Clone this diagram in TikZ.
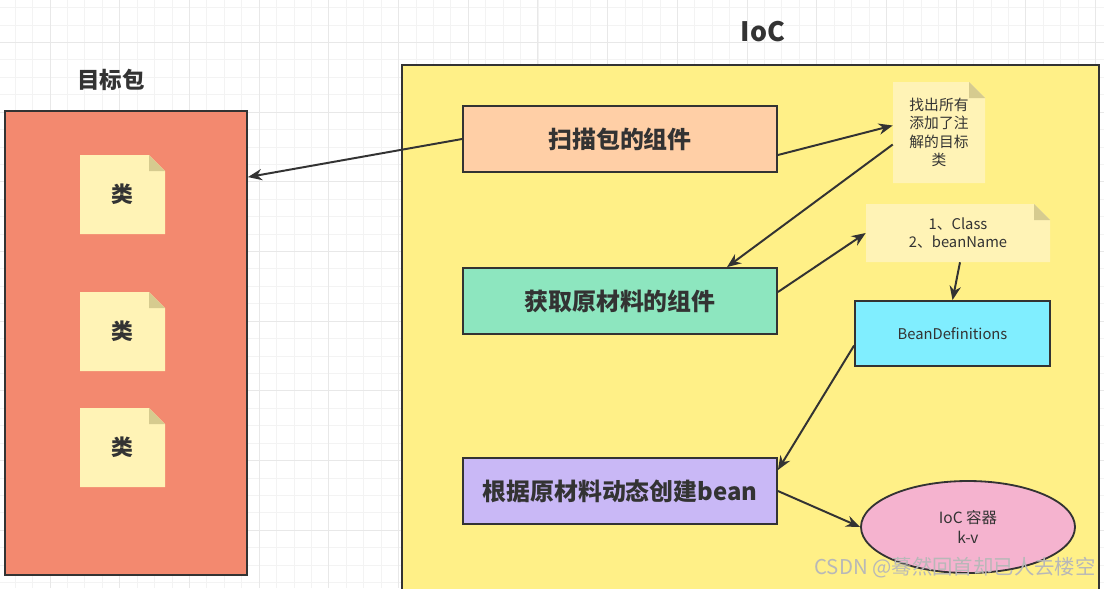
\documentclass[tikz,border=0pt]{standalone}
\usepackage{fontspec}
\setmainfont{Noto Sans CJK SC}
\usetikzlibrary{arrows.meta,shapes.geometric}

\definecolor{inkgray}{HTML}{333333}
\definecolor{gridminor}{HTML}{F3F3F3}
\definecolor{gridmajor}{HTML}{E8E8E8}
\definecolor{pkgred}{HTML}{F3896F}
\definecolor{iocyellow}{HTML}{FFF087}
\definecolor{scanpeach}{HTML}{FFCFA6}
\definecolor{fetchmint}{HTML}{8DE6BF}
\definecolor{createlilac}{HTML}{C9B8F6}
\definecolor{defcyan}{HTML}{80EEFF}
\definecolor{kvpink}{HTML}{F5B3CF}
\definecolor{paper}{HTML}{FFF3B6}
\definecolor{paperfold}{HTML}{D6CB8F}

\def\pxl{0.025cm}

\begin{document}
\begin{tikzpicture}[x=\pxl, y=-\pxl,
    every node/.style={text=inkgray},
    box/.style={draw=inkgray, line width=1.3pt, rectangle,
      minimum width=314*\pxl, minimum height=66*\pxl,
      font=\fontsize{17}{20}\bfseries},
    title/.style={font=\fontsize{16}{19}\bfseries},
    note/.style={rectangle, inner sep=0pt, align=center,
      font=\fontsize{10.5}{13}\selectfont,
      path picture={
        \fill[paper] (path picture bounding box.south west)
          -- (path picture bounding box.north west)
          -- ([xshift=-16*\pxl]path picture bounding box.north east)
          -- ([yshift=-16*\pxl]path picture bounding box.north east)
          -- (path picture bounding box.south east) -- cycle;
        \fill[paperfold] ([xshift=-16*\pxl]path picture bounding box.north east)
          -- ([xshift=-16*\pxl,yshift=-16*\pxl]path picture bounding box.north east)
          -- ([yshift=-16*\pxl]path picture bounding box.north east) -- cycle;
      }},
    arr/.style={draw=inkgray, line width=1.4pt, -{Stealth[length=10pt,width=8pt]}}]

  \clip (0,0) rectangle (1104,588);
  \fill[white] (0,0) rectangle (1104,588);

  % background grid
  \foreach \i in {0,...,64}
    \draw[gridminor, line width=0.5pt] (-2.3+17.425*\i,0) -- (-2.3+17.425*\i,588);
  \foreach \i in {0,...,34}
    \draw[gridminor, line width=0.5pt] (0,7.45+17.425*\i) -- (1104,7.45+17.425*\i);
  \foreach \i in {0,...,15}
    \draw[gridmajor, line width=0.6pt] (50+69.7*\i,0) -- (50+69.7*\i,588);
  \foreach \i in {0,...,8}
    \draw[gridmajor, line width=0.6pt] (0,42.3+69.7*\i) -- (1104,42.3+69.7*\i);

  % target package
  \node[title] (pkgtitle) at (111,80) {目标包};
  \node[draw=inkgray, line width=1.3pt, fill=pkgred, minimum width=242*\pxl,
    minimum height=464*\pxl] (pkg) at (126,343) {};
  \node[note, minimum width=85*\pxl, minimum height=79*\pxl,
    font=\fontsize{15.5}{18}\bfseries] (cls1) at (122.5,194.5) {类};
  \node[note, minimum width=85*\pxl, minimum height=79*\pxl,
    font=\fontsize{15.5}{18}\bfseries] (cls2) at (122.5,331.5) {类};
  \node[note, minimum width=85*\pxl, minimum height=79*\pxl,
    font=\fontsize{15.5}{18}\bfseries] (cls3) at (122.5,447.5) {类};

  % IoC container
  \node[title, font=\fontsize{19}{22}\bfseries] (ioctitle) at (763,32) {IoC};
  \node[draw=inkgray, line width=1.3pt, fill=iocyellow, minimum width=697*\pxl,
    minimum height=560*\pxl] (ioc) at (750.5,345) {};

  \node[box, fill=scanpeach] (scan) at (620,139) {扫描包的组件};
  \node[box, fill=fetchmint] (fetch) at (620,301) {获取原材料的组件};
  \node[box, fill=createlilac] (create) at (620,491) {根据原材料动态创建bean};

  \node[note, minimum width=92*\pxl, minimum height=101*\pxl] (found) at (939,132.5)
    {找出所有\\添加了注\\解的目标\\类};
  \node[note, minimum width=184*\pxl, minimum height=58*\pxl] (rawinfo) at (958,233)
    {1、Class\\2、beanName};
  \node[draw=inkgray, line width=1.3pt, fill=defcyan, minimum width=195*\pxl,
    minimum height=65*\pxl, font=\fontsize{10.5}{13}\selectfont] (beandef) at (952.5,333.5)
    {BeanDefinitions};
  \node[ellipse, draw=inkgray, line width=1.3pt, fill=kvpink, minimum width=214*\pxl,
    minimum height=92*\pxl, align=center, font=\fontsize{11}{14}\selectfont] (kv) at (968,527)
    {IoC 容器\\k-v};

  % connectors
  \draw[arr] (scan.west) -- ([shift={(0,67)}]pkg.north east);
  \draw[arr] ([shift={(0,16)}]scan.east) -- ([shift={(0,-7)}]found.west);
  \draw[arr] ([shift={(0,12)}]found.west) -- ([shift={(107,0)}]fetch.north);
  \draw[arr] ([shift={(0,-9)}]fetch.east) -- (rawinfo.west);
  \draw[arr] ([shift={(2,0)}]rawinfo.south) -- (beandef.north);
  \draw[arr] ([shift={(0,12)}]beandef.west) -- ([shift={(0,-21)}]create.east);
  \draw[arr] (create.east) -- (kv.west);

  % watermark
  \node[text=white!72!black, font=\fontsize{14.5}{17}\selectfont] (mark) at (955,568)
    {CSDN @蓦然回首却已人去楼空};
\end{tikzpicture}
\end{document}
